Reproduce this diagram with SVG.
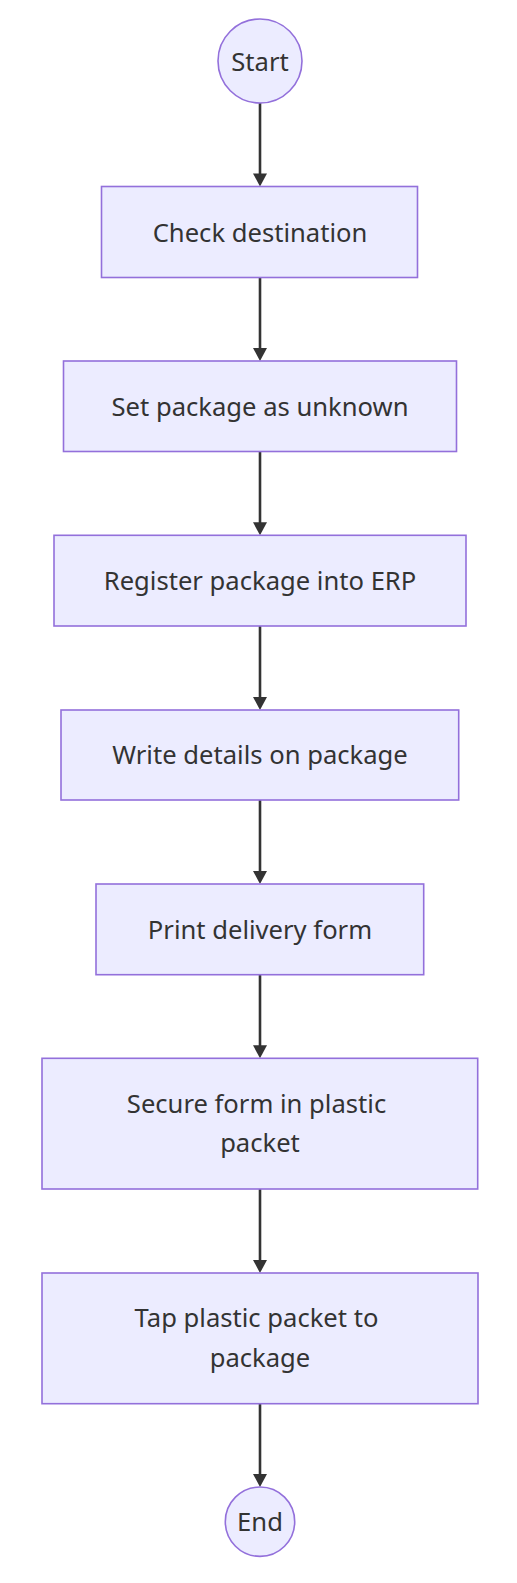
<svg xmlns="http://www.w3.org/2000/svg" width="517" height="1583" viewBox="0 0 517 1583">
<style>
.node rect, .node circle { fill: #ECECFF; stroke: #9370DB; stroke-width: 1.6; }
.node text { font-family: "Noto Sans", "DejaVu Sans", sans-serif; font-size: 25.6px; fill: #333333; text-anchor: middle; }
.edge { stroke: #333333; stroke-width: 2.6; fill: none; }
.head { fill: #333333; stroke: none; }
</style>
<rect width="517" height="1583" fill="#ffffff"/>
<g id="connectors">
  <line class="edge" x1="260" y1="103" x2="260" y2="176"/>
  <polygon class="head" points="253,173.5 267,173.5 260,186.5"/>
  <line class="edge" x1="260" y1="277.5" x2="260" y2="350"/>
  <polygon class="head" points="253,348 267,348 260,361"/>
  <line class="edge" x1="260" y1="451.5" x2="260" y2="525"/>
  <polygon class="head" points="253,522.3 267,522.3 260,535.3"/>
  <line class="edge" x1="260" y1="626" x2="260" y2="699"/>
  <polygon class="head" points="253,697 267,697 260,710"/>
  <line class="edge" x1="260" y1="800" x2="260" y2="873"/>
  <polygon class="head" points="253,871 267,871 260,884"/>
  <line class="edge" x1="260" y1="974.7" x2="260" y2="1048"/>
  <polygon class="head" points="253,1045.3 267,1045.3 260,1058.3"/>
  <line class="edge" x1="260" y1="1189" x2="260" y2="1262"/>
  <polygon class="head" points="253,1260 267,1260 260,1273"/>
  <line class="edge" x1="260" y1="1403.7" x2="260" y2="1476"/>
  <polygon class="head" points="253,1474 267,1474 260,1487"/>
</g>
<g id="start" class="node">
  <circle cx="260" cy="61" r="42"/>
  <text x="260" y="70.5">Start</text>
</g>
<g id="check" class="node">
  <rect x="101.5" y="186.5" width="316" height="91"/>
  <text x="260" y="241.5">Check destination</text>
</g>
<g id="unknown" class="node">
  <rect x="63.5" y="361" width="393" height="90.5"/>
  <text x="260" y="415.5">Set package as unknown</text>
</g>
<g id="register" class="node">
  <rect x="54" y="535.3" width="412" height="90.7"/>
  <text x="260" y="589.8">Register package into ERP</text>
</g>
<g id="write" class="node">
  <rect x="61" y="710" width="397.7" height="90"/>
  <text x="260" y="764.2">Write details on package</text>
</g>
<g id="print" class="node">
  <rect x="96" y="884" width="327.7" height="90.7"/>
  <text x="260" y="938.5">Print delivery form</text>
</g>
<g id="secure" class="node">
  <rect x="42" y="1058.3" width="435.7" height="130.7"/>
  <text x="256.5" y="1112.7">Secure form in plastic</text>
  <text x="260" y="1151.7">packet</text>
</g>
<g id="tap" class="node">
  <rect x="42" y="1273" width="436" height="130.7"/>
  <text x="256.5" y="1327.3">Tap plastic packet to</text>
  <text x="260" y="1366.7">package</text>
</g>
<g id="end" class="node">
  <circle cx="260" cy="1521.7" r="34.7"/>
  <text x="260" y="1530.7">End</text>
</g>
</svg>
